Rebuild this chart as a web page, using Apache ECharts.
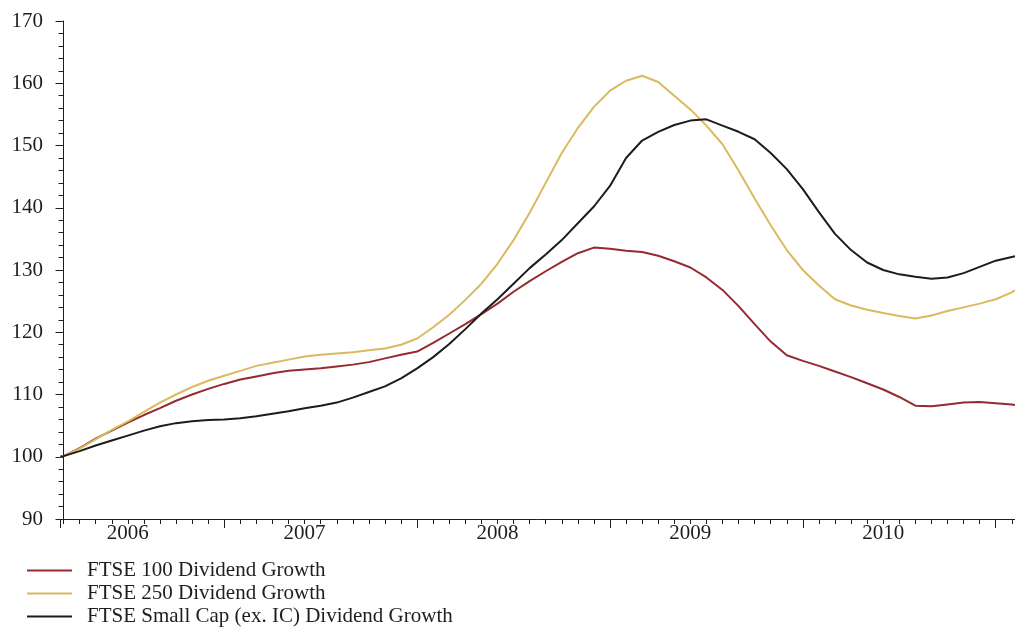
<!DOCTYPE html>
<html>
<head>
<meta charset="utf-8">
<script src="https://cdn.jsdelivr.net/npm/echarts@6/dist/echarts.min.js"></script>
<style>
html,body{margin:0;padding:0;background:#fff;}
#c{width:1015px;height:628px;}
</style>
</head>
<body>
<div id="c"></div>
<script>
// x positions in months (0 = first minor tick of the axis)
const monthPos = [-0.2,0,1,2,3,4,5,6,7,8,9,10,11,12,13,14,15,16,17,18,19,20,21,22,23,24,25,26,27,28,29,30,31,32,33,34,35,36,37,38,39,40,41,42,43,44,45,46,47,48,49,50,51,52,53,54,55,56,57,58,59,59.2];

const ftse100 = [100.0,100.1,101.4,102.9,104.2,105.5,106.7,107.8,109.0,110.0,110.9,111.7,112.4,112.9,113.4,113.8,114.0,114.2,114.5,114.8,115.2,115.8,116.4,116.9,118.3,119.8,121.3,122.9,124.6,126.5,128.2,129.8,131.3,132.7,133.6,133.4,133.1,132.9,132.3,131.4,130.4,128.8,126.8,124.2,121.3,118.5,116.3,115.4,114.6,113.7,112.8,111.8,110.8,109.6,108.2,108.1,108.4,108.7,108.8,108.6,108.4,108.3];

const ftse250 = [100.0,100.1,101.3,102.8,104.3,105.7,107.2,108.7,110.0,111.2,112.2,113.0,113.8,114.6,115.1,115.6,116.1,116.4,116.6,116.8,117.1,117.4,118.0,119.0,120.8,122.8,125.2,127.8,131.0,134.8,139.2,144.0,148.8,152.8,156.2,158.8,160.4,161.2,160.2,158.0,155.8,153.2,150.2,146.0,141.5,137.2,133.2,130.0,127.5,125.3,124.3,123.6,123.1,122.6,122.2,122.7,123.4,124.0,124.6,125.3,126.4,126.8];

const smallCap = [100.0,100.1,100.9,101.8,102.6,103.4,104.2,104.9,105.4,105.7,105.9,106.0,106.2,106.5,106.9,107.3,107.8,108.2,108.7,109.5,110.4,111.3,112.6,114.2,116.0,118.1,120.5,123.0,125.3,127.8,130.3,132.5,134.8,137.5,140.2,143.5,148.0,150.8,152.2,153.3,154.0,154.2,153.2,152.2,151.0,148.8,146.2,143.0,139.3,135.8,133.2,131.2,130.0,129.3,128.9,128.6,128.8,129.5,130.5,131.5,132.1,132.2];

const seriesNames = ['FTSE 100 Dividend Growth','FTSE 250 Dividend Growth','FTSE Small Cap (ex. IC) Dividend Growth'];

const yearLabels = ['2006','2007','2008','2009','2010'];
const yearLabelPos = [4,15,27,39,51];
const minorTickPos = [0,1,2,3,4,5,6,7,8,9,10,11,12,13,14,15,16,17,18,19,20,21,22,23,24,25,26,27,28,29,30,31,32,33,34,35,36,37,38,39,40,41,42,43,44,45,46,47,48,49,50,51,52,53,54,55,56,57,58,59];
const longTickPos = [-0.22,10,22,34,46,58];

const X_MIN = -0.22, X_MAX = 59.2;
const FONT = 'Liberation Serif';
const INK = '#1e1e1e';

function pairs(vals){ return monthPos.map((m,i)=>[m, vals[i]]); }

const chart = echarts.init(document.getElementById('c'), null, {renderer:'canvas'});
chart.setOption({
  animation:false,
  backgroundColor:'#ffffff',
  grid:{left:60, right:0, top:21, bottom:109, containLabel:false},
  legend:{
    orient:'vertical', left:27, top:560, itemGap:2, padding:0, height:90,
    icon:'rect', itemWidth:45, itemHeight:2,
    textStyle:{fontFamily:FONT, fontSize:21, lineHeight:21, color:INK, padding:[0,0,0,10]},
    data:seriesNames
  },
  xAxis:[{
    type:'value', min:X_MIN, max:X_MAX,
    axisLine:{show:true, lineStyle:{color:INK, width:1}},
    splitLine:{show:false},
    axisTick:{show:true, customValues:minorTickPos, length:5, lineStyle:{color:INK}},
    axisLabel:{show:true, customValues:yearLabelPos, margin:4,
      formatter:(v)=>{const i=yearLabelPos.indexOf(Math.round(v)); return i>=0?yearLabels[i]:'';},
      fontFamily:FONT, fontSize:21, color:INK}
  },{
    type:'value', min:X_MIN, max:X_MAX, position:'bottom',
    axisLine:{show:false},
    splitLine:{show:false},
    axisTick:{show:true, customValues:longTickPos, length:9, lineStyle:{color:INK}},
    axisLabel:{show:false}
  }],
  yAxis:{
    type:'value', min:90, max:170, interval:10,
    axisLine:{show:true, lineStyle:{color:INK, width:1}},
    splitLine:{show:false},
    axisTick:{show:true, length:8, lineStyle:{color:INK}},
    minorTick:{show:true, splitNumber:5, length:5, lineStyle:{color:INK}},
    axisLabel:{margin:17, fontFamily:FONT, fontSize:21, color:INK}
  },
  series:[
    {name:seriesNames[0], type:'line', data:pairs(ftse100), showSymbol:false, symbol:'none', lineStyle:{width:2, color:'#962a31'}, itemStyle:{color:'#962a31'}},
    {name:seriesNames[1], type:'line', data:pairs(ftse250), showSymbol:false, symbol:'none', lineStyle:{width:2, color:'#dbb960'}, itemStyle:{color:'#dbb960'}},
    {name:seriesNames[2], type:'line', data:pairs(smallCap), showSymbol:false, symbol:'none', lineStyle:{width:2, color:'#1c1c1c'}, itemStyle:{color:'#1c1c1c'}}
  ]
});
</script>
</body>
</html>
